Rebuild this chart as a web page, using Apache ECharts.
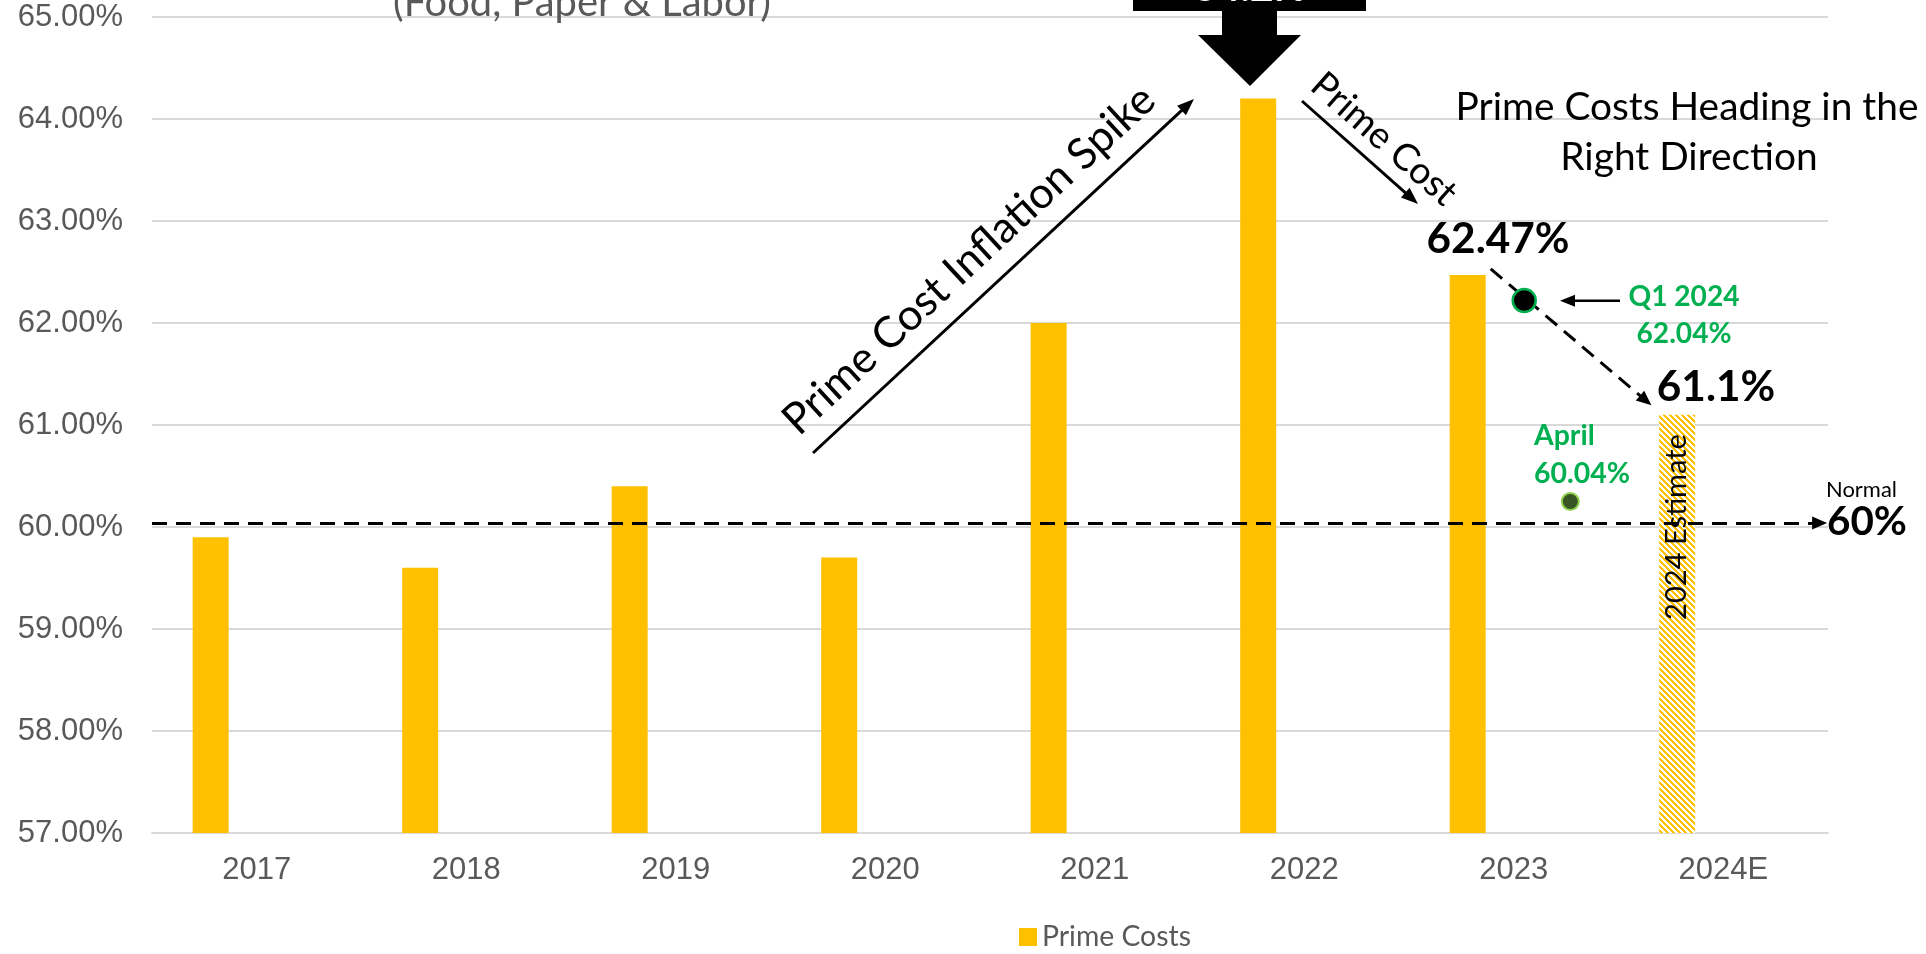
<!DOCTYPE html>
<html><head><meta charset="utf-8">
<script src="https://cdn.jsdelivr.net/npm/echarts/dist/echarts.min.js"></script>
<style>html,body{margin:0;padding:0;background:#fff}#c{width:1926px;height:954px}</style>
</head><body><div id="c"></div>
<script>
// ---- data ----
const categories = ['2017','2018','2019','2020','2021','2022','2023','2024E'];
const primeCosts = [59.9, 59.6, 60.4, 59.7, 62.0, 64.2, 62.47, 61.1];
const estimateIndex = 7;
const yMin = 57, yMax = 65, yStep = 1;
// annotation points: [category position (0..8), percent]
const q1Point = [6.55, 62.22];
const aprilPoint = [6.77, 60.25];
const trendStart = [6.39, 62.53];
const trendEnd = [7.13, 61.24];
const normalLevel = 60.04;
const normalEnd = 7.96;

// ---- helpers ----
const FONT = 'Lato, "Noto Sans", sans-serif';
const mctx = document.createElement('canvas').getContext('2d');
function fit(text, target, weight) {
  mctx.font = (weight || 'normal') + ' 100px ' + FONT;
  return 100 * target / mctx.measureText(text).width;
}
function stripes() {
  const c = document.createElement('canvas'); c.width = c.height = 6;
  const g = c.getContext('2d'); g.fillStyle = '#fff'; g.fillRect(0, 0, 6, 6);
  g.fillStyle = '#FFC000';
  for (let y = 0; y < 6; y++) for (let x = 0; x < 6; x++) if ((((x - y) % 6) + 6) % 6 < 3) g.fillRect(x, y, 1, 1);
  return c;
}
function T(text, x, baseY, size, o) {
  o = o || {};
  return { type: 'text', x: x, y: baseY - 0.36 * size, z: 100, silent: true,
    style: { text: text, x: 0, y: 0, fill: o.color || '#000',
      font: (o.weight || 'normal') + ' ' + size + 'px ' + FONT,
      align: o.align || 'center', textAlign: o.align || 'center', verticalAlign: 'middle', textVerticalAlign: 'middle' } };
}
function R(text, cx, cy, size, rot, o) {
  o = o || {};
  return { type: 'text', x: cx, y: cy, rotation: rot, z: 100, silent: true,
    style: { text: text, x: 0, y: 0, fill: o.color || '#000',
      font: (o.weight || 'normal') + ' ' + size + 'px ' + FONT,
      align: 'center', textAlign: 'center', verticalAlign: 'middle', textVerticalAlign: 'middle' } };
}
function arrow(x1, y1, x2, y2, lw, hl, hw) {
  const dx = x2 - x1, dy = y2 - y1, L = Math.hypot(dx, dy), ux = dx / L, uy = dy / L;
  const bx = x2 - ux * hl, by = y2 - uy * hl;
  return [
    { type: 'line', z: 100, silent: true, shape: { x1: x1, y1: y1, x2: bx + ux, y2: by + uy }, style: { stroke: '#000', lineWidth: lw } },
    { type: 'polygon', z: 100, silent: true, shape: { points: [[x2, y2], [bx - uy * hw / 2, by + ux * hw / 2], [bx + uy * hw / 2, by - ux * hw / 2]] }, style: { fill: '#000' } }
  ];
}

const GREEN = '#00B050';
const sBig = fit('62.47%', 143, 'bold');
const sQ = fit('62.04%', 95, 'bold');
const sA = fit('60.04%', 96, 'bold');
const sHead = fit('Prime Costs Heading in the', 463);

const graphics = [].concat(
  [ T('(Food, Paper & Labor)', 582, 18, fit('(Food, Paper & Labor)', 378), { color: '#595959' }),
    { type: 'rect', z: 90, silent: true, shape: { x: 1133, y: -10, width: 233, height: 21 }, style: { fill: '#000' } },
    T('64.2%', 1250, 3, fit('64.2%', 114, 'bold'), { color: '#fff', weight: 'bold' }),
    { type: 'polygon', z: 90, silent: true, shape: { points: [[1222, 8], [1277, 8], [1277, 35], [1301, 35], [1250, 86], [1198, 35], [1222, 35]] }, style: { fill: '#000' } },
    R('Prime Cost Inflation Spike', 969, 260, fit('Prime Cost Inflation Spike', 490), Math.atan2(354, 381)),
    R('Prime Cost', 1384, 139, fit('Prime Cost', 180), -Math.atan2(103, 117)),
    T('Prime Costs Heading in the', 1687, 121, sHead),
    T('Right Direction', 1689, 171, sHead),
    T('62.47%', 1498, 255, sBig, { weight: 'bold' }),
    T('61.1%', 1716, 403, sBig, { weight: 'bold' }),
    T('Q1 2024', 1684, 306.7, sQ, { weight: 'bold', color: GREEN }),
    T('62.04%', 1684, 344, sQ, { weight: 'bold', color: GREEN }),
    T('April', 1534, 446, sA, { weight: 'bold', color: GREEN, align: 'left' }),
    T('60.04%', 1534, 484, sA, { weight: 'bold', color: GREEN, align: 'left' }),
    T('Normal', 1826, 497.7, fit('Normal', 71), { align: 'left' }),
    T('60%', 1827, 537, fit('60%', 80, 'bold'), { weight: 'bold', align: 'left' }),
    R('2024 Estimate', 1677, 527, fit('2024 Estimate', 186), Math.PI / 2)
  ],
  arrow(813, 453, 1194, 99, 3, 17, 13),
  arrow(1302, 101, 1418, 204, 3, 17, 13),
  arrow(1620, 300.7, 1560, 300.7, 2.5, 15, 12)
);

const chart = echarts.init(document.getElementById('c'));
chart.setOption({
  animation: false,
  backgroundColor: '#fff',
  grid: { left: 152, right: 98, top: 17, bottom: 121, containLabel: false },
  legend: {
    data: ['Prime Costs'], left: 1019, top: 923, padding: 0, itemWidth: 18, itemHeight: 18, icon: 'rect',
    textStyle: { color: '#595959', fontFamily: FONT, fontSize: fit('Prime Costs', 149) }
  },
  xAxis: [
    { type: 'category', data: categories, boundaryGap: true,
      axisLine: { lineStyle: { color: '#D9D9D9', width: 2 } }, axisTick: { show: false },
      axisLabel: { color: '#595959', fontFamily: '"Liberation Sans", Arial, sans-serif', fontSize: 31, margin: 22 } },
    { type: 'value', min: 0, max: 8, show: false }
  ],
  yAxis: { type: 'value', min: yMin, max: yMax, interval: yStep,
    axisLine: { show: false }, axisTick: { show: false },
    splitLine: { lineStyle: { color: '#D9D9D9', width: 2 } },
    axisLabel: { color: '#595959', fontFamily: '"Liberation Sans", Arial, sans-serif', fontSize: 31, margin: 29,
      formatter: v => v.toFixed(2) + '%' } },
  series: [
    { name: 'Prime Costs', type: 'bar', barWidth: 36, barGap: '156%', itemStyle: { color: '#FFC000' },
      data: primeCosts.map((v, i) => i === estimateIndex ? { value: v, itemStyle: { color: { image: stripes(), repeat: 'repeat' } } } : v) },
    { name: 'spacer', type: 'bar', barWidth: 36, barGap: '156%', data: categories.map(() => null) },
    { name: 'lines', type: 'scatter', xAxisIndex: 1, data: [], z: 5, silent: true,
      markLine: { silent: true, symbol: ['none', 'triangle'], symbolSize: [13, 15], label: { show: false },
        lineStyle: { color: '#000', width: 3, type: [15, 9] }, emphasis: { disabled: true },
        data: [
          [{ coord: trendStart }, { coord: trendEnd }],
          [{ coord: [0, normalLevel] }, { coord: [normalEnd, normalLevel] }]
        ] } },
    { name: 'Q1 2024', type: 'scatter', xAxisIndex: 1, z: 10, silent: true, symbolSize: 23,
      itemStyle: { color: '#000', borderColor: GREEN, borderWidth: 2.5, opacity: 1 }, data: [q1Point] },
    { name: 'April', type: 'scatter', xAxisIndex: 1, z: 10, silent: true, symbolSize: 17,
      itemStyle: { color: '#375623', borderColor: '#92D050', borderWidth: 2, opacity: 1 }, data: [aprilPoint] }
  ],
  graphic: { elements: graphics }
});
</script></body></html>
